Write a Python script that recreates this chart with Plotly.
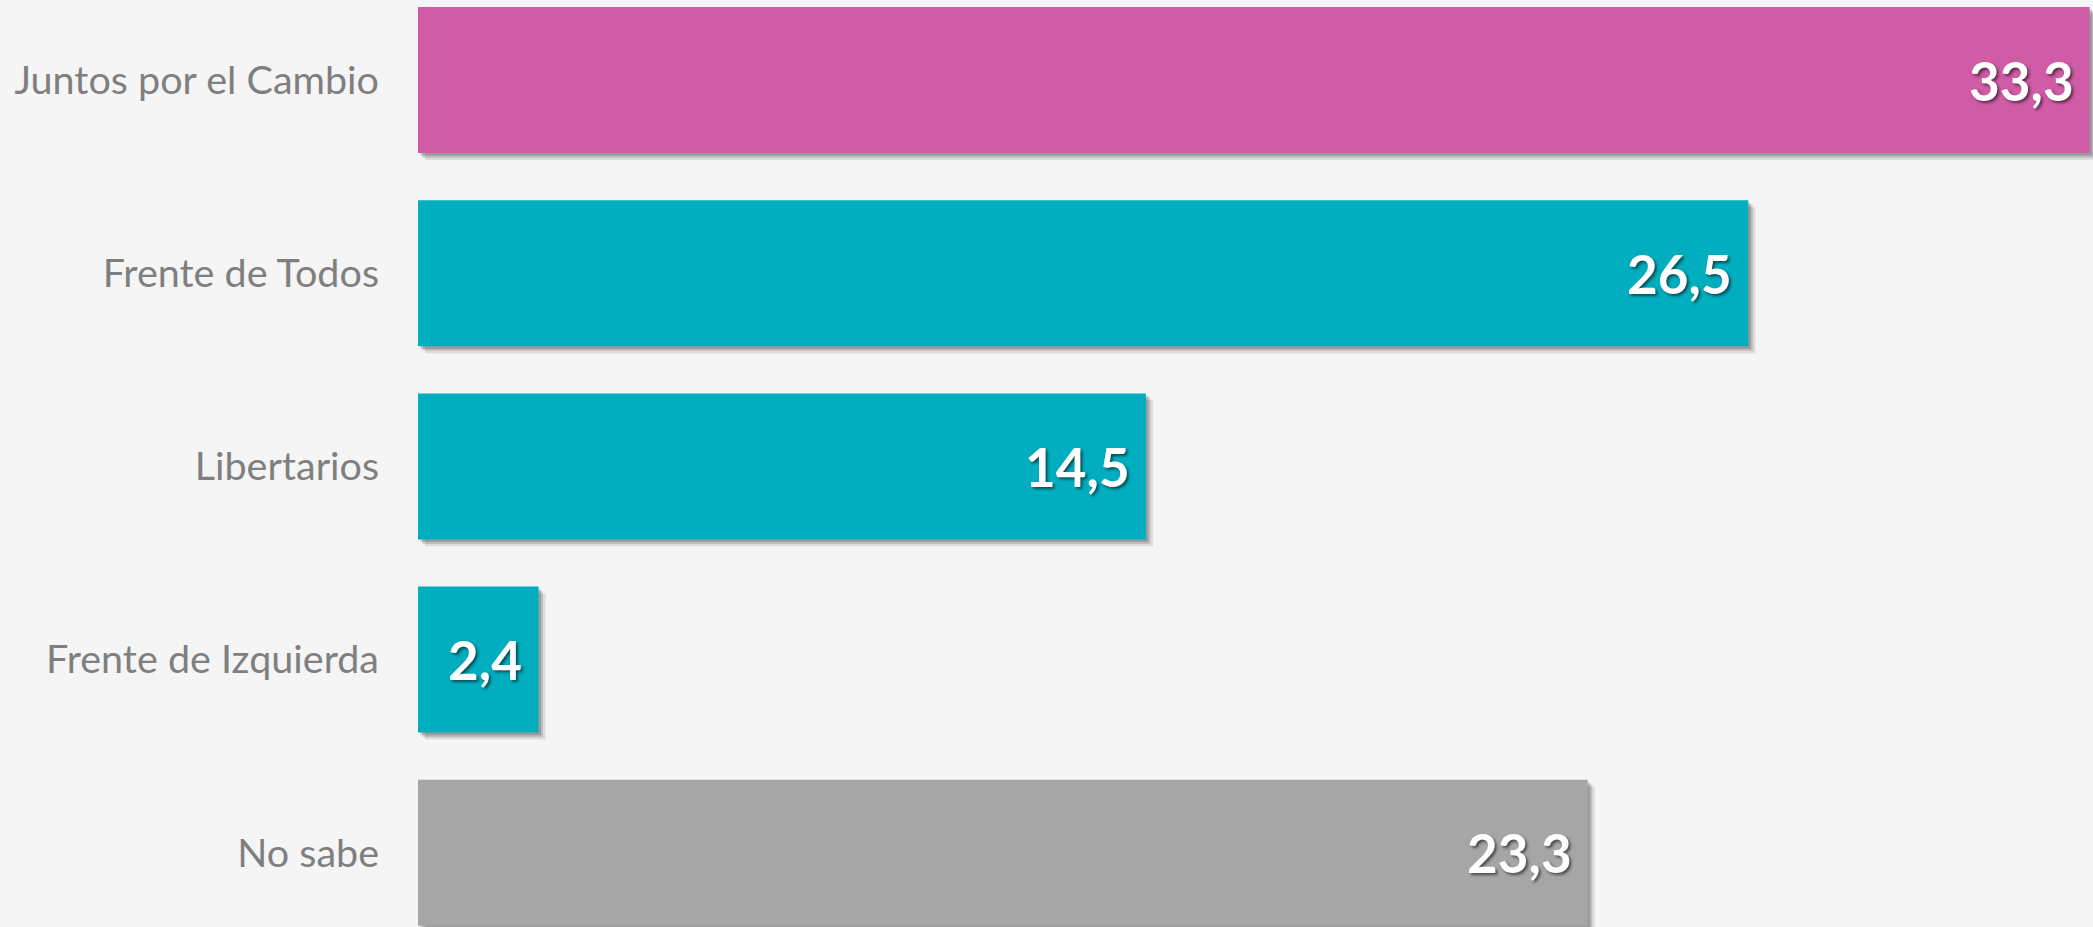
import plotly.graph_objects as go

categories = ["Juntos por el Cambio", "Frente de Todos", "Libertarios", "Frente de Izquierda", "No sabe"]
values = [33.3, 26.5, 14.5, 2.4, 23.3]
colors = ["#D05BA6", "#00AEBF", "#00AEBF", "#00AEBF", "#A6A6A6"]

W, H = 2093, 927
LEFT = 418
PX_PER_UNIT = 50.2
xmax = (W - LEFT) / PX_PER_UNIT
cat_px = 193.2
first_center = 80
top_val = -first_center / cat_px
bot_val = (len(categories) - 1) + (H - (first_center + cat_px * (len(categories) - 1))) / cat_px
bw = 146 / cat_px

fig = go.Figure()
# soft drop shadows
for dx, dy, a in [(0.14, 0.036, 0.10), (0.09, 0.024, 0.14), (0.05, 0.014, 0.18)]:
    fig.add_trace(go.Bar(
        y=categories, x=values, base=[dx] * len(values), orientation="h",
        width=bw, offset=-bw / 2 + dy,
        marker=dict(color=f"rgba(0,0,0,{a})", line=dict(width=0)),
        hoverinfo="skip", showlegend=False,
    ))
fig.add_trace(go.Bar(
    y=categories, x=values, orientation="h", width=bw, offset=-bw / 2,
    marker=dict(color=colors, line=dict(width=0)),
    showlegend=False,
))

for c, v in zip(categories, values):
    fig.add_annotation(
        x=v, y=c, xref="x", yref="y", xanchor="right", yanchor="middle",
        xshift=-14, showarrow=False,
        text=f"{v:.1f}".replace(".", ","),
        font=dict(family="Lato", size=53, color="white", weight="bold",
                  shadow="2px 2px 3px rgba(0,0,0,0.55)"),
    )

fig.update_layout(
    width=W, height=H,
    margin=dict(l=LEFT, r=0, t=0, b=0),
    paper_bgcolor="#F5F5F5", plot_bgcolor="#F5F5F5",
    barmode="overlay",
    xaxis=dict(range=[0, xmax], visible=False),
    yaxis=dict(
        type="category", range=[bot_val, top_val],
        showgrid=False, zeroline=False, showline=False, ticks="",
        ticklabelstandoff=38,
        tickfont=dict(family="Lato", size=39.5, color="#7F7F7F"),
    ),
)

fig.write_html(
    "out.html",
    config={"displayModeBar": False},
    post_script="document.body.style.margin='0';document.body.style.padding='0';"
                "document.body.style.background='#F5F5F5';document.body.style.overflow='hidden';",
)
